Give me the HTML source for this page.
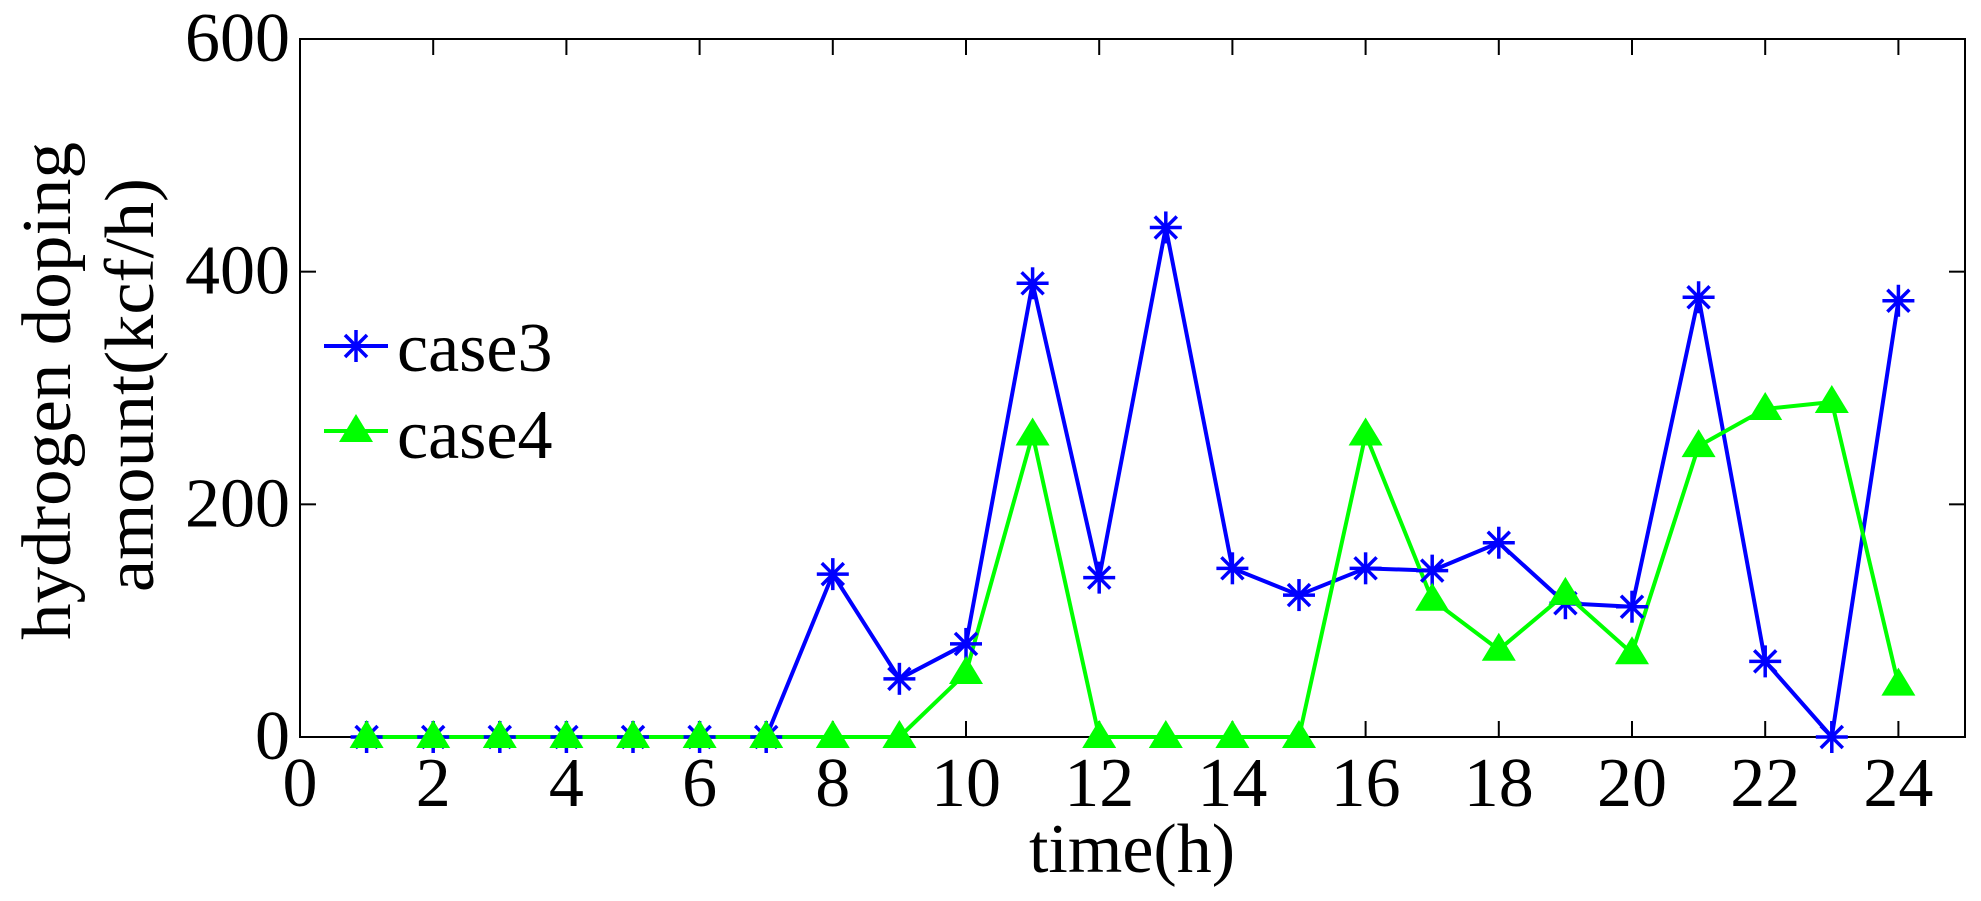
<!DOCTYPE html>
<html><head><meta charset="utf-8"><style>
html,body{margin:0;padding:0;background:#fff;}
svg{display:block;}
svg text{font-family:"Liberation Serif","Times New Roman",Times,serif !important;fill:#000;}
</style></head><body>
<svg width="1981" height="901" viewBox="0 0 1981 901" xmlns="http://www.w3.org/2000/svg" font-family="Liberation Serif, Times New Roman, serif">
<defs>
<g id="ast" stroke="#0000ff" stroke-width="3.5" fill="none">
<line x1="-16" y1="0" x2="16" y2="0"/><line x1="0" y1="-16" x2="0" y2="16"/>
<line x1="-11" y1="-11" x2="11" y2="11"/><line x1="-11" y1="11" x2="11" y2="-11"/>
</g>
<polygon id="tri" points="0,-17 17,11 -17,11" fill="#00ff00"/>
</defs>
<rect x="300" y="39" width="1665" height="698" fill="none" stroke="#000" stroke-width="2"/>
<g stroke="#000" stroke-width="2" id="ticks"></g>
<g font-size="70" text-anchor="end" id="ylab"></g>
<g font-size="70" text-anchor="middle" id="xlab"></g>
<text x="1132" y="872" font-size="70" text-anchor="middle">time(h)</text>
<text transform="translate(70,391) rotate(-90)" font-size="70" text-anchor="middle" textLength="498" lengthAdjust="spacingAndGlyphs">hydrogen doping</text>
<text transform="translate(153,385) rotate(-90)" font-size="70" text-anchor="middle" textLength="414" lengthAdjust="spacingAndGlyphs">amount(kcf/h)</text>
<g id="series"></g>
<line x1="324" y1="346" x2="388" y2="346" stroke="#0000ff" stroke-width="4"/>
<use href="#ast" x="356" y="346"/>
<text x="397" y="371" font-size="70">case3</text>
<line x1="324" y1="431" x2="388" y2="431" stroke="#00ff00" stroke-width="4"/>
<use href="#tri" x="356" y="431"/>
<text x="397" y="458" font-size="70">case4</text>
</svg>
<script>
const NS="http://www.w3.org/2000/svg";
const X=v=>300+v*1665/25, Y=v=>737-v*698/600;
function el(p,t,a,txt){const e=document.createElementNS(NS,t);for(const k in a)e.setAttribute(k,a[k]);if(txt!==undefined)e.textContent=txt;p.appendChild(e);return e;}
const tk=document.getElementById('ticks'),yl=document.getElementById('ylab'),xl=document.getElementById('xlab');
for(let v=0;v<=600;v+=200){const y=Y(v);el(tk,'line',{x1:300,y1:y,x2:316,y2:y});el(tk,'line',{x1:1965,y1:y,x2:1949,y2:y});el(yl,'text',{x:290,y:y+22},v);}
for(let v=0;v<=24;v+=2){const x=X(v);el(tk,'line',{x1:x,y1:737,x2:x,y2:721});el(tk,'line',{x1:x,y1:39,x2:x,y2:55});el(xl,'text',{x:x,y:806},v);}
const c3=[0,0,0,0,0,0,0,140,50,80,390,137,438,145,122,145,143,167,115,112,378,65,0,375];
const c4=[0,0,0,0,0,0,0,0,0,55,260,0,0,0,0,260,118,75,123,72,250,282,288,45];
const s=document.getElementById('series');
function draw(d,col,m){el(s,'polyline',{points:d.map((v,i)=>X(i+1)+','+Y(v)).join(' '),fill:'none',stroke:col,'stroke-width':4,'stroke-linejoin':'round'});return ()=>d.forEach((v,i)=>el(s,'use',{href:'#'+m,x:X(i+1),y:Y(v)}));}
const m3=draw(c3,'#0000ff','ast');const m4=draw(c4,'#00ff00','tri');m3();m4();
</script>
</body></html>
